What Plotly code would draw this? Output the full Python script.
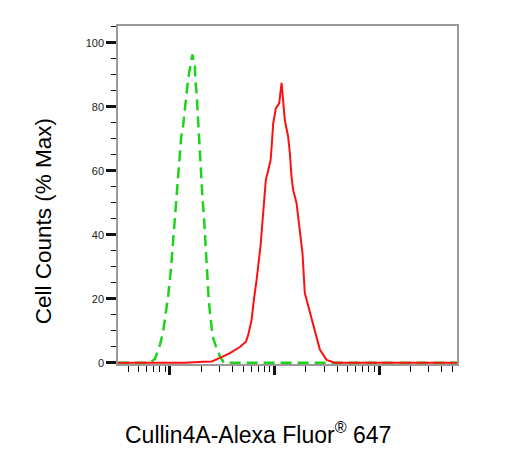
import plotly.graph_objects as go

# Fluorescence intensity (linear units on a log axis) and % max counts
green_x = [31.8, 50.0, 57.7, 64.4, 71.9, 80.2, 85.7, 89.5, 96.4, 102.3, 106.9, 111.7, 115.9,
           121.1, 124.7, 128.2, 133.9, 138.3, 142.2, 147.6, 153.1, 164.1,
           173.4, 175.4, 179.9, 183.2, 186.6, 187.9, 190.5, 193.6, 197.7, 200.9, 205.6,
           211.3, 214.8, 217.3, 220.8, 225.9, 229.1, 234.4, 239.9, 246.6, 255.9, 275.4, 300.6, 328.1,
           400.0, 1000.0, 5000.0, 20000.0, 55700.0]
green_y = [0, 0, 0, 0, 1.2, 5.6, 9.3, 14.0, 21.2, 29.5, 37.6, 46.9, 54.6,
           62.9, 66.5, 70.7, 74.3, 79.0, 82.6, 87.3, 91.0, 96.4,
           92.6, 87.8, 84.2, 79.5, 75.9, 71.2, 67.6, 62.9, 59.3, 54.6, 50.5,
           45.9, 41.5, 36.8, 33.1, 28.5, 24.9, 20.2, 16.5, 11.9, 8.2, 5.1, 2.0, 0,
           0, 0, 0, 0, 0]

red_x = [31.8, 139.0, 208.0, 250.6, 300.6, 375.0, 466.7, 533.3, 561.0, 604.0, 635.3, 674.5,
         736.2, 780.0, 809.1, 826.0, 871.0, 918.3, 944.1, 972.5, 1030.0, 1109.0, 1169.5,
         1211.0, 1256.0, 1352.0, 1403.0, 1455.0, 1510.0, 1626.0, 1687.0,
         1853.0, 1950.0, 2148.0, 2399.0, 2716.0, 3148.0, 3776.0, 10000.0, 55700.0]
red_y = [0, 0, 0.3, 0.4, 1.5, 3.0, 4.9, 6.6, 8.7, 13.4, 19.7, 25.9,
         36.7, 46.5, 52.1, 57.1, 60.2, 63.4, 68.6, 74.9, 79.5, 81.1, 87.5,
         82.1, 75.9, 70.6, 65.5, 58.2, 54.0, 49.9, 45.2,
         34.3, 21.8, 16.5, 10.3, 4.1, 0.9, 0, 0, 0]

y_ticks = [0, 20, 40, 60, 80, 100]
y_tick_labels = ["0", "20", "40", "60", "80", "100"]
x_major = [100, 1000, 10000]
x_minor = [m * d for d in (10, 100, 1000, 10000) for m in range(2, 10)]

fig = go.Figure()
fig.add_trace(go.Scatter(x=green_x, y=green_y, mode="lines",
                         line=dict(color="#1ed21e", width=2.5, dash="11px,6px"),
                         showlegend=False, hoverinfo="skip"))
fig.add_trace(go.Scatter(x=red_x, y=red_y, mode="lines",
                         line=dict(color="#ff1010", width=2),
                         showlegend=False, hoverinfo="skip"))

axis_line = "#9a9a9a"
fig.update_layout(
    width=506, height=459,
    margin=dict(l=110, r=56.7, t=17.7, b=103),
    paper_bgcolor="white", plot_bgcolor="white",
    font=dict(family="Liberation Sans, Arial, sans-serif", color="#111"),
    xaxis=dict(type="log", range=[1.503, 4.746], showgrid=False, zeroline=False,
               showline=True, linecolor=axis_line, linewidth=1.5, mirror=True,
               tickmode="array", tickvals=x_major, showticklabels=False,
               ticks="outside", ticklen=9, tickwidth=2.5, tickcolor="#111",
               minor=dict(tickmode="array", tickvals=x_minor, ticks="outside",
                          ticklen=6, tickwidth=1, tickcolor="#111", showgrid=False)),
    yaxis=dict(range=[-0.4, 105.3], showgrid=False, zeroline=False,
               showline=True, linecolor=axis_line, linewidth=1.5, mirror=True,
               tickmode="array", tickvals=y_ticks, ticktext=y_tick_labels,
               ticks="outside", ticklen=10, tickwidth=2.5, tickcolor="#111",
               tickfont=dict(size=11, color="#222"),
               minor=dict(dtick=5, ticks="outside", ticklen=5, tickwidth=1.2,
                          tickcolor="#111", showgrid=False)),
    annotations=[
        dict(text="Cell Counts (% Max)", xref="paper", yref="paper",
             x=-0.221, y=0.4227, textangle=-90, showarrow=False,
             xanchor="center", yanchor="middle",
             font=dict(size=22.5, color="#000")),
        dict(text="Cullin4A-Alexa Fluor<sup>®</sup> 647", xref="paper", yref="paper",
             x=0.4126, y=-0.204, showarrow=False, xanchor="center", yanchor="middle",
             font=dict(size=23, color="#000")),
    ],
)

fig.write_html("out.html")
